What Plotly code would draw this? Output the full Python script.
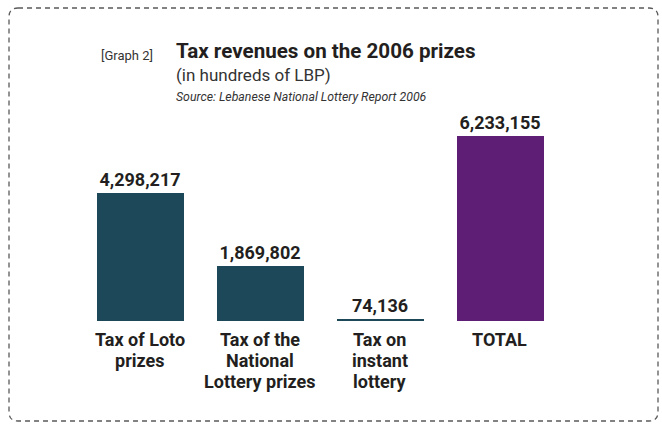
import plotly.graph_objects as go

# Tax revenue data (hundreds of LBP)
categories = ["Tax of Loto prizes", "Tax of the National Lottery prizes",
              "Tax on instant lottery", "TOTAL"]
category_lines = [["Tax of Loto", "prizes"],
                  ["Tax of the", "National", "Lottery prizes"],
                  ["Tax on", "instant", "lottery"],
                  ["TOTAL"]]
values = [4298217, 1869802, 74136, 6233155]
bar_colors = ["#1d4859", "#1d4859", "#1d4859", "#5e1e75"]

W, H = 662, 424
FONT = "Roboto, Liberation Sans, Arial, sans-serif"
TEXT = "#231f20"


def py(px):
    """Pixel offset from the top -> paper y."""
    return 1 - px / H


fig = go.Figure()
fig.add_trace(go.Bar(
    x=categories,
    y=values,
    width=0.725,
    marker=dict(color=bar_colors, line=dict(width=0)),
    text=[f"{v:,}" for v in values],
    textposition="outside",
    textfont=dict(family=FONT, size=18, color=TEXT, weight="bold"),
    cliponaxis=False,
    hoverinfo="skip",
))

# Multi-line category labels under each bar
annotations = []
for cat, lines in zip(categories, category_lines):
    for i, line in enumerate(lines):
        annotations.append(dict(
            x=cat, xref="x", y=py(339 + 21 * i), yref="paper",
            text=f"<b>{line}</b>", showarrow=False,
            xanchor="center", yanchor="middle",
            font=dict(family=FONT, size=18, color=TEXT),
        ))

# Heading block
annotations += [
    dict(x=99 / W, y=py(55), xref="paper", yref="paper", text="[Graph 2]",
         showarrow=False, xanchor="left", yanchor="middle",
         font=dict(family=FONT, size=13, color="#333333")),
    dict(x=174 / W, y=py(51), xref="paper", yref="paper",
         text="<b>Tax revenues on the 2006 prizes</b>",
         showarrow=False, xanchor="left", yanchor="middle",
         font=dict(family=FONT, size=20.6, color=TEXT)),
    dict(x=174 / W, y=py(75), xref="paper", yref="paper",
         text="(in hundreds of LBP)",
         showarrow=False, xanchor="left", yanchor="middle",
         font=dict(family=FONT, size=17, color="#333333")),
    dict(x=174 / W, y=py(97), xref="paper", yref="paper",
         text="<i>Source: Lebanese National Lottery Report 2006</i>",
         showarrow=False, xanchor="left", yanchor="middle",
         font=dict(family=FONT, size=12.3, color="#333333")),
]

# Dashed rounded frame around the graphic
x0, x1, y0, y1, r = 9, 658, 8, 421, 9
def px_(v):
    return v / W
path = (
    f"M {px_(x0 + r)},{py(y0)} L {px_(x1 - r)},{py(y0)} "
    f"Q {px_(x1)},{py(y0)} {px_(x1)},{py(y0 + r)} "
    f"L {px_(x1)},{py(y1 - r)} Q {px_(x1)},{py(y1)} {px_(x1 - r)},{py(y1)} "
    f"L {px_(x0 + r)},{py(y1)} Q {px_(x0)},{py(y1)} {px_(x0)},{py(y1 - r)} "
    f"L {px_(x0)},{py(y0 + r)} Q {px_(x0)},{py(y0)} {px_(x0 + r)},{py(y0)} Z"
)

fig.update_layout(
    width=W, height=H,
    margin=dict(l=0, r=0, t=0, b=0),
    paper_bgcolor="white", plot_bgcolor="white",
    showlegend=False,
    bargap=0,
    uniformtext=dict(mode=False),
    annotations=annotations,
    shapes=[dict(type="path", path=path, xref="paper", yref="paper",
                 line=dict(color="#5a5a5a", width=1.3, dash="5px,4px"))],
    xaxis=dict(domain=[79.5 / W, 559.5 / W], range=[-0.5, 3.5],
               showticklabels=False, showgrid=False, zeroline=False,
               showline=False, ticks="", fixedrange=True),
    yaxis=dict(domain=[py(321.7), py(98.4)], range=[0, 7.5e6],
               visible=False, showgrid=False, zeroline=False, fixedrange=True),
)

fig.write_html("out.html")
